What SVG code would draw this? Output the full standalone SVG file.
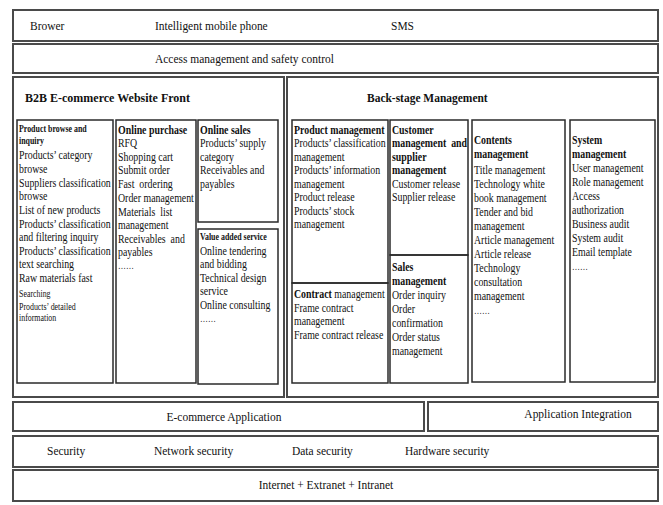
<svg xmlns="http://www.w3.org/2000/svg" width="663" height="505" viewBox="0 0 663 505">
<style>
.b{fill:none;stroke:#2a2a2a;stroke-width:1.5}
.o{fill:none;stroke:#4a4a4a;stroke-width:2}
text{font-family:"Liberation Serif","Times New Roman",serif;fill:#111}
.t{font-size:12.5px}
.k{font-size:12.5px;font-weight:bold}
.s{font-size:10px}
.sk{font-size:10px;font-weight:bold}
.L{font-size:13.5px}
.H{font-size:13.5px;font-weight:bold}
</style>
<rect width="663" height="505" fill="#fff"/>
<g id="top-row">
<rect class="o" x="13" y="10" width="645" height="31"/>
<g transform="translate(30,0) scale(0.85,1)"><text class="L" x="0" y="30">Brower</text></g>
<g transform="translate(155,0) scale(0.85,1)"><text class="L" x="0" y="30">Intelligent mobile phone</text></g>
<g transform="translate(391,0) scale(0.85,1)"><text class="L" x="0" y="30">SMS</text></g>
</g>
<g id="access">
<rect class="o" x="13" y="44" width="645" height="29"/>
<g transform="translate(155,0) scale(0.85,1)"><text class="L" x="0" y="63">Access management and safety control</text></g>
</g>
<g id="front">
<rect class="o" x="13" y="77" width="271" height="320"/>
<g transform="translate(25,0) scale(0.89,1)"><text class="H" x="0" y="102">B2B E-commerce Website Front</text></g>
</g>
<g id="backstage">
<rect class="o" x="287" y="77" width="371" height="320"/>
<g transform="translate(367,0) scale(0.85,1)"><text class="H" x="0" y="102">Back-stage Management</text></g>
</g>
<g id="product-browse">
<rect class="b" x="17" y="120" width="96" height="263"/>
<g transform="translate(19,0) scale(0.79,1)">
<text class="sk" x="0" y="132">Product browse and</text>
<text class="sk" x="0" y="144">inquiry</text>
<text class="t" x="0" y="159">Products’ category</text>
<text class="t" x="0" y="173">browse</text>
<text class="t" x="0" y="187">Suppliers classification</text>
<text class="t" x="0" y="200">browse</text>
<text class="t" x="0" y="214">List of new products</text>
<text class="t" x="0" y="228">Products’ classification</text>
<text class="t" x="0" y="241">and filtering inquiry</text>
<text class="t" x="0" y="255">Products’ classification</text>
<text class="t" x="0" y="268">text searching</text>
<text class="t" x="0" y="282">Raw materials fast</text>
<text class="s" x="0" y="297">Searching</text>
<text class="s" x="0" y="310">Products’ detailed</text>
<text class="s" x="0" y="321">information</text>
</g>
</g>
<g id="online-purchase">
<rect class="b" x="116" y="120" width="80" height="263"/>
<g transform="translate(118,0) scale(0.79,1)">
<text class="k" x="0" y="134">Online purchase</text>
<text class="t" x="0" y="147">RFQ</text>
<text class="t" x="0" y="161">Shopping cart</text>
<text class="t" x="0" y="174">Submit order</text>
<text class="t" x="0" y="188" xml:space="preserve">Fast  ordering</text>
<text class="t" x="0" y="202">Order management</text>
<text class="t" x="0" y="216" xml:space="preserve">Materials  list</text>
<text class="t" x="0" y="229">management</text>
<text class="t" x="0" y="243" xml:space="preserve">Receivables  and</text>
<text class="t" x="0" y="256">payables</text>
<text class="s" x="0" y="269">……</text>
</g>
</g>
<g id="online-sales">
<rect class="b" x="198" y="120" width="80" height="102"/>
<g transform="translate(200,0) scale(0.79,1)">
<text class="k" x="0" y="134">Online sales</text>
<text class="t" x="0" y="147">Products’ supply</text>
<text class="t" x="0" y="161">category</text>
<text class="t" x="0" y="174">Receivables and</text>
<text class="t" x="0" y="188">payables</text>
</g>
</g>
<g id="value-added">
<rect class="b" x="198" y="229" width="80" height="155"/>
<g transform="translate(200,0) scale(0.79,1)">
<text class="sk" x="0" y="240">Value added service</text>
<text class="t" x="0" y="255">Online tendering</text>
<text class="t" x="0" y="268">and bidding</text>
<text class="t" x="0" y="282">Technical design</text>
<text class="t" x="0" y="295">service</text>
<text class="t" x="0" y="309">Online consulting</text>
<text class="s" x="0" y="322">……</text>
</g>
</g>
<g id="product-management">
<rect class="b" x="292" y="120" width="96" height="163"/>
<g transform="translate(294,0) scale(0.79,1)">
<text class="k" x="0" y="134">Product management</text>
<text class="t" x="0" y="147">Products’ classification</text>
<text class="t" x="0" y="161">management</text>
<text class="t" x="0" y="174">Products’ information</text>
<text class="t" x="0" y="188">management</text>
<text class="t" x="0" y="201">Product release</text>
<text class="t" x="0" y="215">Products’ stock</text>
<text class="t" x="0" y="228">management</text>
</g>
</g>
<g id="contract-management">
<rect class="b" x="292" y="283" width="96" height="100"/>
<g transform="translate(294,0) scale(0.79,1)">
<text class="t" x="0" y="298"><tspan font-weight="bold">Contract</tspan> management</text>
<text class="t" x="0" y="312">Frame contract</text>
<text class="t" x="0" y="325">management</text>
<text class="t" x="0" y="339">Frame contract release</text>
</g>
</g>
<g id="customer-management">
<rect class="b" x="390" y="120" width="78" height="135"/>
<g transform="translate(392,0) scale(0.79,1)">
<text class="k" x="0" y="134">Customer</text>
<text class="k" x="0" y="147" xml:space="preserve">management  and</text>
<text class="k" x="0" y="161">supplier</text>
<text class="k" x="0" y="174">management</text>
<text class="t" x="0" y="188">Customer release</text>
<text class="t" x="0" y="201">Supplier release</text>
</g>
</g>
<g id="sales-management">
<rect class="b" x="390" y="255" width="78" height="128"/>
<g transform="translate(392,0) scale(0.79,1)">
<text class="k" x="0" y="271">Sales</text>
<text class="k" x="0" y="285">management</text>
<text class="t" x="0" y="299">Order inquiry</text>
<text class="t" x="0" y="313">Order</text>
<text class="t" x="0" y="327">confirmation</text>
<text class="t" x="0" y="341">Order status</text>
<text class="t" x="0" y="355">management</text>
</g>
</g>
<g id="contents-management">
<rect class="b" x="472" y="120" width="93" height="262"/>
<g transform="translate(474,0) scale(0.79,1)">
<text class="k" x="0" y="144">Contents</text>
<text class="k" x="0" y="158">management</text>
<text class="t" x="0" y="174">Title management</text>
<text class="t" x="0" y="188">Technology white</text>
<text class="t" x="0" y="202">book management</text>
<text class="t" x="0" y="216">Tender and bid</text>
<text class="t" x="0" y="230">management</text>
<text class="t" x="0" y="244">Article management</text>
<text class="t" x="0" y="258">Article release</text>
<text class="t" x="0" y="272">Technology</text>
<text class="t" x="0" y="286">consultation</text>
<text class="t" x="0" y="300">management</text>
<text class="s" x="0" y="314">……</text>
</g>
</g>
<g id="system-management">
<rect class="b" x="570" y="120" width="85" height="262"/>
<g transform="translate(572,0) scale(0.79,1)">
<text class="k" x="0" y="144">System</text>
<text class="k" x="0" y="158">management</text>
<text class="t" x="0" y="172">User management</text>
<text class="t" x="0" y="186">Role management</text>
<text class="t" x="0" y="200">Access</text>
<text class="t" x="0" y="214">authorization</text>
<text class="t" x="0" y="228">Business audit</text>
<text class="t" x="0" y="242">System audit</text>
<text class="t" x="0" y="256">Email template</text>
<text class="s" x="0" y="270">……</text>
</g>
</g>
<g id="ecommerce-application">
<rect class="o" x="13" y="402" width="411" height="29"/>
<g transform="translate(224,0) scale(0.85,1)"><text class="L" x="0" y="421" text-anchor="middle">E-commerce Application</text></g>
</g>
<g id="application-integration">
<rect class="o" x="428" y="402" width="230" height="29"/>
<g transform="translate(578,0) scale(0.85,1)"><text class="L" x="0" y="418" text-anchor="middle">Application Integration</text></g>
</g>
<g id="security">
<rect class="o" x="13" y="436" width="645" height="31"/>
<g transform="translate(47,0) scale(0.85,1)"><text class="L" x="0" y="455">Security</text></g>
<g transform="translate(154,0) scale(0.85,1)"><text class="L" x="0" y="455">Network security</text></g>
<g transform="translate(292,0) scale(0.85,1)"><text class="L" x="0" y="455">Data security</text></g>
<g transform="translate(405,0) scale(0.85,1)"><text class="L" x="0" y="455">Hardware security</text></g>
</g>
<g id="network">
<rect class="o" x="13" y="470" width="645" height="31"/>
<g transform="translate(326,0) scale(0.85,1)"><text class="L" x="0" y="489" text-anchor="middle">Internet + Extranet + Intranet</text></g>
</g>
<g id="connectors"></g>
</svg>
